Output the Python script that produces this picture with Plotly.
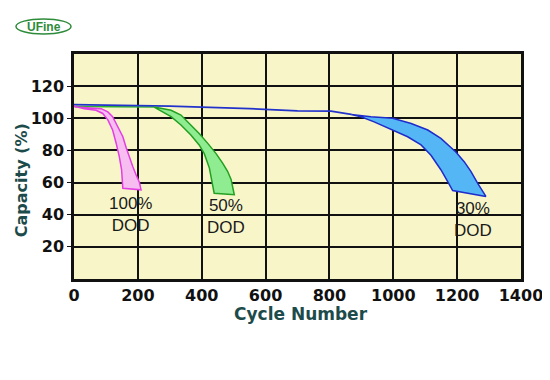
import plotly.graph_objects as go

# ---------------- data ----------------
x_ticks = [0, 200, 400, 600, 800, 1000, 1200, 1400]
y_ticks = [20, 40, 60, 80, 100, 120]

# flat baselines before each curve branches off
base_50_cycles = [0, 251]
base_50_cap = [107.3, 107.0]
base_30_cycles = [0, 300, 550, 700, 805, 868]
base_30_cap = [108.5, 107.6, 106.0, 104.6, 104.5, 102.4]

# 100% DOD band
dod100_outer_cycles = [0, 6, 85, 106, 121, 137, 153, 163, 173, 184, 194, 205, 210]
dod100_outer_cap = [107.5, 107, 106, 104, 101, 95, 88.5, 82, 76, 70, 65, 60, 55.5]
dod100_inner_cycles = [0, 32, 69, 90, 106, 121, 132, 142, 149, 153]
dod100_inner_cap = [107.5, 106, 105, 103, 99, 92.7, 84.5, 76, 68, 56.5]

# 50% DOD band
dod50_outer_cycles = [251, 304, 335, 366, 392, 419, 445, 466, 481, 492, 500, 502]
dod50_outer_cap = [107, 105, 102, 96, 90.6, 84.4, 78, 72, 67, 62, 55.5, 52.4]
dod50_inner_cycles = [251, 278, 304, 335, 366, 392, 408, 424, 434, 439]
dod50_inner_cap = [107, 104, 101, 95.8, 89.6, 83.4, 78, 69, 58.6, 53.4]

# 30% DOD band
dod30_outer_cycles = [868, 930, 998, 1056, 1108, 1149, 1196, 1222, 1243, 1264, 1290]
dod30_outer_cap = [102.4, 101, 100, 96.8, 92.7, 87.5, 79, 73, 67, 59.6, 51.4]
dod30_inner_cycles = [868, 899, 940, 998, 1045, 1087, 1118, 1149, 1170, 1186]
dod30_inner_cap = [102.4, 101, 97.8, 92.7, 88.5, 83.4, 77, 68, 60.7, 55]

# labels
label_texts = ["100%<br>DOD", "50%<br>DOD", "30%<br>DOD"]
label_cycles = [178, 476, 1251]
label_caps = [40, 39, 37]

# ---------------- figure ----------------
fig = go.Figure()


def band(outer_x, outer_y, inner_x, inner_y, fill, line):
    xs = list(outer_x) + list(reversed(inner_x))
    ys = list(outer_y) + list(reversed(inner_y))
    fig.add_trace(go.Scatter(
        x=xs, y=ys, mode="lines", fill="toself", fillcolor=fill,
        line=dict(color=line, width=1.5), hoverinfo="skip", showlegend=False))


fig.add_trace(go.Scatter(x=base_50_cycles, y=base_50_cap, mode="lines",
                         line=dict(color="#2fb02f", width=1.5), showlegend=False))
fig.add_trace(go.Scatter(x=base_30_cycles, y=base_30_cap, mode="lines",
                         line=dict(color="#2233cc", width=1.8), showlegend=False))

band(dod100_outer_cycles, dod100_outer_cap, dod100_inner_cycles, dod100_inner_cap,
     "#f8bdf0", "#e23ee2")
band(dod50_outer_cycles, dod50_outer_cap, dod50_inner_cycles, dod50_inner_cap,
     "#90ec90", "#22a022")
band(dod30_outer_cycles, dod30_outer_cap, dod30_inner_cycles, dod30_inner_cap,
     "#55b6f6", "#1f2ccc")

for t, cx, cy in zip(label_texts, label_cycles, label_caps):
    fig.add_annotation(x=cx, y=cy, text=t, showarrow=False, xanchor="center", yanchor="middle",
                       font=dict(family="Liberation Sans, Arial", size=17, color="#1a1a1a"))

tick_font = dict(family="DejaVu Sans", size=16, color="#111111", weight="bold")
title_font = dict(family="DejaVu Sans", size=17, color="#1d4b4b", weight="bold")

fig.update_xaxes(range=[0, 1400], tickvals=x_ticks, ticktext=[str(v) for v in x_ticks],
                 showgrid=True, gridcolor="#111111", gridwidth=1.5,
                 showline=True, linecolor="#111111", linewidth=2.5, mirror=True,
                 ticks="", tickfont=tick_font, zeroline=False, automargin=False)
fig.update_yaxes(range=[0, 140], tickvals=y_ticks, ticktext=[str(v) for v in y_ticks],
                 showgrid=True, gridcolor="#111111", gridwidth=1.5,
                 showline=True, linecolor="#111111", linewidth=2.5, mirror=True,
                 ticks="outside", ticklen=4, tickcolor="#111111", tickfont=tick_font,
                 zeroline=False, automargin=False)

fig.add_annotation(xref="paper", yref="paper", x=0.508, y=-0.156, text="Cycle Number",
                   showarrow=False, font=title_font, xanchor="center", yanchor="middle")
fig.add_annotation(xref="paper", yref="paper", x=-0.118, y=0.44, text="Capacity (%)",
                   textangle=-90, showarrow=False,
                   font=dict(family="DejaVu Sans", size=16, color="#1d4b4b", weight="bold"),
                   xanchor="center", yanchor="middle")

# logo
fig.add_shape(type="circle", xref="paper", yref="paper", x0=-0.1298, x1=-0.0067,
              y0=1.089, y1=1.156, line=dict(color="#2e8b3a", width=1.5))
fig.add_annotation(xref="paper", yref="paper", x=-0.068, y=1.122, text="<b>UFine</b>",
                   showarrow=False, font=dict(family="Liberation Sans, Arial", size=12,
                                              color="#2e8b3a"),
                   xanchor="center", yanchor="middle")

fig.update_layout(width=550, height=380, margin=dict(l=66, r=37, t=46, b=109),
                  plot_bgcolor="#f8f6c9", paper_bgcolor="white", showlegend=False)

fig.write_html("out.html")
